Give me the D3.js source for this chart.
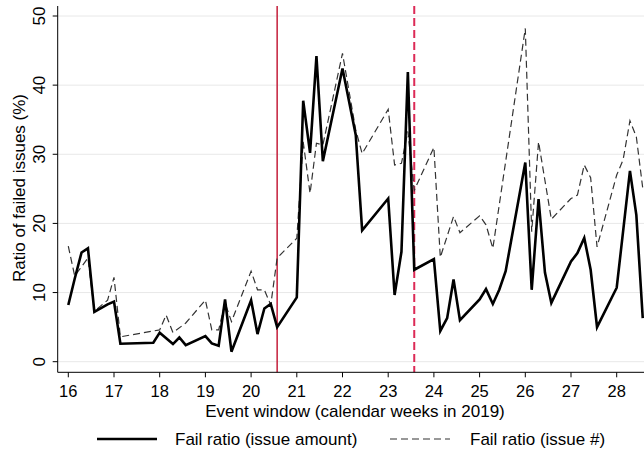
<!DOCTYPE html>
<html>
<head>
<meta charset="utf-8">
<script src="https://cdn.jsdelivr.net/npm/d3@7"></script>
<style>
  body { margin: 0; background: #fff; }
  svg { display: block; font-family: "Liberation Sans", Arial, sans-serif; }
</style>
</head>
<body>
<script>
// fail ratio by issue amount (solid)
var amountWeek  = [16.00,16.14,16.29,16.43,16.57,16.86,17.00,17.14,17.86,18.00,18.29,18.43,18.57,19.00,19.14,19.29,19.43,19.57,20.00,20.14,20.29,20.43,20.57,21.00,21.14,21.29,21.43,21.57,22.00,22.29,22.43,23.00,23.14,23.29,23.43,23.57,24.00,24.14,24.29,24.43,24.57,25.00,25.14,25.29,25.43,25.57,26.00,26.14,26.29,26.43,26.57,27.00,27.14,27.29,27.43,27.57,28.00,28.29,28.43,28.57];
var amountRatio = [8.2,12.0,15.8,16.4,7.2,8.3,8.7,2.6,2.75,4.2,2.55,3.5,2.4,3.7,2.65,2.3,9.0,1.45,8.9,4.0,7.7,8.35,5.0,9.3,37.75,30.2,44.2,29.0,42.4,32.8,19.0,23.6,9.65,15.9,41.9,13.3,14.85,4.45,6.3,11.9,6.0,9.0,10.5,8.35,10.4,13.1,28.8,10.4,23.5,12.9,8.5,14.5,15.7,17.9,13.3,5.0,10.7,27.6,21.2,6.3];

// fail ratio by issue count (dashed)
var countWeek  = [16.00,16.14,16.43,16.57,16.86,17.00,17.14,18.00,18.14,18.29,18.57,19.00,19.14,19.29,19.43,19.57,20.00,20.14,20.29,20.43,20.57,21.00,21.14,21.29,21.43,21.57,22.00,22.29,22.43,23.00,23.14,23.29,23.43,23.57,24.00,24.14,24.43,24.57,25.00,25.14,25.29,26.00,26.14,26.29,26.57,27.00,27.14,27.29,27.43,27.57,28.00,28.14,28.29,28.43,28.57];
var countRatio = [16.7,12.4,15.0,7.3,8.9,12.2,3.6,4.6,6.75,4.2,5.6,8.9,4.6,4.6,8.5,5.8,13.1,10.4,10.4,8.2,15.0,17.85,31.8,24.35,31.6,31.35,44.6,33.5,30.1,36.5,28.45,28.7,33.3,24.8,31.0,15.1,21.0,18.65,21.1,19.8,16.4,48.2,18.8,31.8,20.6,23.6,24.1,28.45,26.6,16.6,27.0,29.2,34.85,32.5,25.1];

var xTicks = [16,17,18,19,20,21,22,23,24,25,26,27,28];
var yTicks = [0,10,20,30,40,50];
var eventWeeks = [20.57, 23.57];   // solid: first event, dashed: second event

var width = 644, height = 460;

var svg = d3.select("body")
   .append("svg")
   .attr("width", width)
   .attr("height", height);

var x = d3.scaleLinear().domain([16, 28]).range([68.3, 616.7]);
var y = d3.scaleLinear().domain([0, 50]).range([361.7, 16]);

var plotL = 57.7, plotR = width, plotT = 6, plotB = 372.3;

// gridlines
svg.append("g")
  .selectAll("line")
  .data(yTicks)
  .enter().append("line")
  .attr("x1", plotL).attr("x2", plotR)
  .attr("y1", function(d){ return y(d); })
  .attr("y2", function(d){ return y(d); })
  .style("stroke", "#e8e8e8")
  .style("stroke-width", 1);

svg.append("defs").append("clipPath").attr("id", "plot")
  .append("rect").attr("x", plotL).attr("y", plotT).attr("width", plotR - plotL).attr("height", plotB - plotT);

// event lines
svg.append("line")
  .attr("x1", x(eventWeeks[0])).attr("x2", x(eventWeeks[0]))
  .attr("y1", plotT).attr("y2", plotB)
  .style("stroke", "#c41e3a").style("stroke-width", 1.5);

svg.append("line")
  .attr("x1", x(eventWeeks[1])).attr("x2", x(eventWeeks[1]))
  .attr("y1", plotT).attr("y2", plotB)
  .style("stroke", "#dc2a56").style("stroke-width", 2)
  .style("stroke-dasharray", "8,4");

var line = d3.line()
  .x(function(d){ return x(d[0]); })
  .y(function(d){ return y(d[1]); });

svg.append("path")
  .datum(d3.zip(countWeek, countRatio))
  .attr("clip-path", "url(#plot)")
  .attr("d", line)
  .style("fill", "none")
  .style("stroke", "#333")
  .style("stroke-width", 1.2)
  .style("stroke-dasharray", "7,4");

svg.append("path")
  .datum(d3.zip(amountWeek, amountRatio))
  .attr("clip-path", "url(#plot)")
  .attr("d", line)
  .style("fill", "none")
  .style("stroke", "#000")
  .style("stroke-width", 2.6)
  .style("stroke-linejoin", "miter");

// axes
svg.append("line")
  .attr("x1", plotL).attr("x2", plotL).attr("y1", plotT).attr("y2", plotB)
  .style("stroke", "#000").style("stroke-width", 1);
svg.append("line")
  .attr("x1", plotL).attr("x2", plotR).attr("y1", plotB).attr("y2", plotB)
  .style("stroke", "#000").style("stroke-width", 1);

var xg = svg.append("g");
xg.selectAll("line")
  .data(xTicks)
  .enter().append("line")
  .attr("x1", function(d){ return x(d); }).attr("x2", function(d){ return x(d); })
  .attr("y1", plotB).attr("y2", plotB + 5)
  .style("stroke", "#000");
xg.selectAll("text")
  .data(xTicks)
  .enter().append("text")
  .attr("x", function(d){ return x(d); })
  .attr("y", 397)
  .attr("text-anchor", "middle")
  .style("font-size", "16.5px")
  .text(function(d){ return d; });

var yg = svg.append("g");
yg.selectAll("line")
  .data(yTicks)
  .enter().append("line")
  .attr("x1", plotL - 5).attr("x2", plotL)
  .attr("y1", function(d){ return y(d); }).attr("y2", function(d){ return y(d); })
  .style("stroke", "#000");
yg.selectAll("text")
  .data(yTicks)
  .enter().append("text")
  .attr("transform", function(d){ return "translate(45," + y(d) + ") rotate(-90)"; })
  .attr("text-anchor", "middle")
  .style("font-size", "17px")
  .text(function(d){ return d; });

svg.append("text")
  .attr("x", 355).attr("y", 417)
  .attr("text-anchor", "middle")
  .style("font-size", "17px")
  .text("Event window (calendar weeks in 2019)");

svg.append("text")
  .attr("transform", "translate(25,188) rotate(-90)")
  .attr("text-anchor", "middle")
  .style("font-size", "17px")
  .text("Ratio of failed issues (%)");

// legend
svg.append("line")
  .attr("x1", 97).attr("x2", 157).attr("y1", 439).attr("y2", 439)
  .style("stroke", "#000").style("stroke-width", 2.6);
svg.append("text")
  .attr("x", 175).attr("y", 445)
  .style("font-size", "17px")
  .text("Fail ratio (issue amount)");

svg.append("line")
  .attr("x1", 390).attr("x2", 450).attr("y1", 439).attr("y2", 439)
  .style("stroke", "#333").style("stroke-width", 1.2)
  .style("stroke-dasharray", "7,4");
svg.append("text")
  .attr("x", 470).attr("y", 445)
  .style("font-size", "17px")
  .text("Fail ratio (issue #)");
</script>
</body>
</html>
